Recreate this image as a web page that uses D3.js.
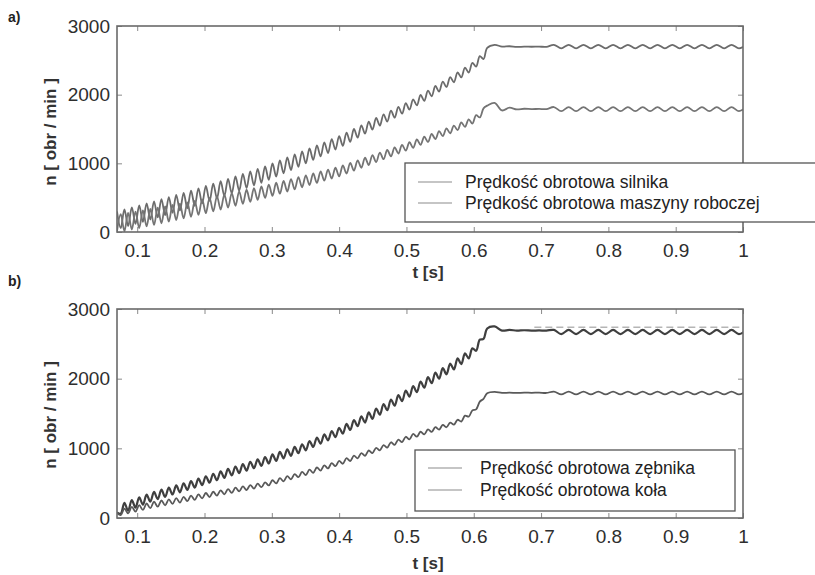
<html>
<head>
<meta charset="utf-8">
<title>Prędkość obrotowa</title>
<script src="https://cdn.jsdelivr.net/npm/d3@7"></script>
<style>
    body { margin: 0; background: #fff; }
    svg text { font-family: "Liberation Sans", Arial, sans-serif; }
</style>
</head>
<body>
<svg id="chart" width="815" height="575"></svg>
<script>
// sample grid: ramp samples every half period (0.0055 s) from 0.07 to 0.62,
// then hold samples every 0.011 s after 0.62
const tStart = 0.07, rampStep = 0.0055, rampEnd = 0.62, holdStep = 0.011;

const xTicks = [0.1, 0.2, 0.3, 0.4, 0.5, 0.6, 0.7, 0.8, 0.9, 1];
const yTicks = [0, 1000, 2000, 3000];

const legendA = ["Prędkość obrotowa silnika", "Prędkość obrotowa maszyny roboczej"];
const legendB = ["Prędkość obrotowa zębnika", "Prędkość obrotowa koła"];

// a) motor speed [obr/min]
const aMotor = [
    300, 55, 329, 87, 359, 118, 388, 149, 418, 181,
    447, 213, 478, 246, 509, 280, 540, 313, 571, 346,
    602, 381, 636, 417, 671, 453, 705, 490, 740, 526,
    774, 564, 810, 602, 847, 640, 883, 679, 920, 717,
    956, 760, 999, 807, 1043, 855, 1086, 902, 1130, 949,
    1173, 999, 1217, 1049, 1262, 1100, 1306, 1150, 1351, 1200,
    1395, 1255, 1448, 1314, 1501, 1373, 1554, 1432, 1607, 1491,
    1660, 1549, 1714, 1607, 1768, 1665, 1822, 1723, 1876, 1781,
    1930, 1843, 1995, 1910, 2060, 1977, 2126, 2045, 2191, 2112,
    2256, 2180, 2324, 2251, 2393, 2322, 2462, 2408, 2561, 2519,
    2680
];
const aMotorHold = [
    2725, 2700, 2705, 2695, 2700, 2698, 2700, 2697,
    2725, 2675, 2725, 2675, 2725, 2675, 2725, 2675, 2725, 2675,
    2725, 2675, 2725, 2675, 2725, 2675, 2725, 2675, 2725, 2675,
    2725, 2675, 2725, 2675, 2725, 2675, 2725
];

// a) working machine speed
const aMachine = [
    10, 259, 13, 278, 36, 297, 58, 316, 81, 335,
    104, 354, 127, 373, 151, 393, 174, 412, 198, 431,
    221, 452, 248, 475, 274, 498, 301, 520, 327, 543,
    354, 566, 382, 591, 411, 615, 439, 639, 468, 664,
    496, 690, 527, 717, 558, 744, 590, 771, 621, 798,
    652, 826, 684, 853, 715, 881, 747, 909, 778, 936,
    810, 969, 852, 1006, 893, 1044, 935, 1082, 976, 1119,
    1018, 1157, 1060, 1194, 1101, 1232, 1143, 1270, 1184, 1307,
    1226, 1347, 1268, 1387, 1311, 1428, 1353, 1468, 1396, 1508,
    1438, 1550, 1484, 1595, 1531, 1640, 1578, 1702, 1669, 1801,
    1840
];
const aMachineHold = [
    1880, 1770, 1810, 1785, 1795, 1790, 1792, 1790,
    1820, 1760, 1820, 1760, 1820, 1760, 1820, 1760, 1820, 1760,
    1820, 1760, 1820, 1760, 1820, 1760, 1820, 1760, 1820, 1760,
    1820, 1760, 1820, 1760, 1820, 1760, 1820
];

// b) pinion speed
const bPinion = [
    80, 62, 219, 105, 258, 148, 297, 191, 336, 234,
    375, 271, 406, 304, 437, 337, 467, 369, 498, 402,
    529, 437, 564, 472, 599, 507, 634, 542, 669, 577,
    704, 611, 738, 645, 772, 680, 807, 714, 841, 748,
    875, 783, 912, 820, 948, 857, 985, 893, 1021, 930,
    1058, 972, 1105, 1019, 1153, 1067, 1200, 1114, 1248, 1161,
    1295, 1211, 1350, 1264, 1405, 1317, 1460, 1370, 1515, 1423,
    1570, 1482, 1635, 1547, 1700, 1612, 1764, 1677, 1829, 1742,
    1894, 1806, 1958, 1870, 2022, 1935, 2087, 1999, 2151, 2063,
    2215, 2133, 2291, 2210, 2363, 2291, 2435, 2400, 2560, 2570,
    2720
];
const bPinionHold = [
    2750, 2690, 2700, 2690, 2695, 2690, 2692, 2690,
    2700, 2640, 2700, 2640, 2700, 2640, 2700, 2640, 2700, 2640,
    2700, 2640, 2700, 2640, 2700, 2640, 2700, 2640, 2700, 2640,
    2700, 2640, 2700, 2640, 2700, 2640, 2700
];
// faint upper trace seen above the pinion line after the ramp
const bPinionRefT = [0.69, 1.0];
const bPinionRef = [2738, 2738];

// b) wheel speed
const bWheel = [
    70, 42, 135, 67, 159, 92, 184, 116, 208, 141,
    233, 162, 251, 182, 268, 202, 286, 221, 303, 241,
    321, 261, 339, 281, 359, 301, 377, 321, 397, 340,
    415, 361, 435, 382, 454, 402, 473, 421, 492, 442,
    512, 467, 542, 497, 572, 527, 601, 556, 631, 586,
    661, 617, 693, 649, 725, 681, 756, 712, 788, 744,
    820, 779, 858, 818, 895, 856, 932, 893, 969, 932,
    1007, 971, 1047, 1011, 1087, 1051, 1126, 1090, 1166, 1130,
    1206, 1167, 1238, 1201, 1272, 1236, 1304, 1269, 1337, 1303,
    1370, 1340, 1410, 1385, 1470, 1455, 1545, 1560, 1670, 1710,
    1790
];
const bWheelHold = [
    1810, 1795, 1800, 1795, 1800, 1797, 1800, 1795,
    1815, 1775, 1815, 1775, 1815, 1775, 1815, 1775, 1815, 1775,
    1815, 1775, 1815, 1775, 1815, 1775, 1815, 1775, 1815, 1775,
    1815, 1775, 1815, 1775, 1815, 1775, 1815
];

function toPoints(ramp, hold) {
    let pts = ramp.map((v, i) => [tStart + i * rampStep, v]);
    hold.forEach((v, k) => pts.push([rampEnd + (k + 1) * holdStep, v]));
    return pts;
}

const svg = d3.select("#chart");
const left = 117, right = 743;
const x = d3.scaleLinear().domain([0.07, 1]).range([left, right]);

const panels = [
    { name: "a", top: 26, bottom: 232, labelY: 132, tLabel: 278, tagY: 22,
      lines: [
        { pts: toPoints(aMotor, aMotorHold), color: "#6b6b6b", w: 1.8 },
        { pts: toPoints(aMachine, aMachineHold), color: "#747474", w: 1.8 }
      ],
      legend: { x: 405, y: 163, w: 440, h: 59, texts: legendA, lx: 418, tx: 465, rows: [188, 209] } },
    { name: "b", top: 309, bottom: 518, labelY: 415, tLabel: 569, tagY: 286,
      lines: [
        { pts: bPinionRefT.map((t, i) => [t, bPinionRef[i]]), color: "#b5b5b5", w: 1.6, dash: "7,4" },
        { pts: toPoints(bPinion, bPinionHold), color: "#3f3f3f", w: 2.2 },
        { pts: toPoints(bWheel, bWheelHold), color: "#595959", w: 1.8 }
      ],
      legend: { x: 415, y: 450, w: 320, h: 61, texts: legendB, lx: 428, tx: 480, rows: [474, 496] } }
];

panels.forEach(p => {
    let y = d3.scaleLinear().domain([0, 3000]).range([p.bottom, p.top]);
    let g = svg.append("g").attr("id", "panel-" + p.name);

    g.append("clipPath").attr("id", "clip-" + p.name)
        .append("rect")
        .attr("x", left).attr("y", p.top)
        .attr("width", right - left).attr("height", p.bottom - p.top);

    // inward ticks on all four sides (matlab box)
    let axB = g.append("g").attr("transform", `translate(0,${p.bottom})`)
        .call(d3.axisBottom(x).tickValues(xTicks).tickSizeInner(-5).tickSizeOuter(0)
            .tickPadding(12).tickFormat(d3.format("~g")));
    let axL = g.append("g").attr("transform", `translate(${left},0)`)
        .call(d3.axisLeft(y).tickValues(yTicks).tickSizeInner(-5).tickSizeOuter(0)
            .tickPadding(7).tickFormat(d3.format("d")));
    let axT = g.append("g").attr("transform", `translate(0,${p.top})`)
        .call(d3.axisTop(x).tickValues(xTicks).tickSizeInner(-5).tickSizeOuter(0).tickFormat(""));
    let axR = g.append("g").attr("transform", `translate(${right},0)`)
        .call(d3.axisRight(y).tickValues(yTicks).tickSizeInner(-5).tickSizeOuter(0).tickFormat(""));

    [axB, axL, axT, axR].forEach(a => {
        a.select(".domain").remove();
        a.selectAll(".tick line").attr("stroke", "#8a8a8a").attr("stroke-width", 1);
        a.selectAll(".tick text")
            .style("font-size", "19px")
            .attr("fill", "#2e2e2e");
    });

    let line = d3.line()
        .x(d => x(d[0]))
        .y(d => y(d[1]))
        .curve(d3.curveCatmullRom.alpha(0.5));

    g.append("g").attr("clip-path", `url(#clip-${p.name})`)
        .selectAll("path")
        .data(p.lines)
        .join("path")
            .attr("d", d => line(d.pts))
            .attr("fill", "none")
            .attr("stroke", d => d.color)
            .attr("stroke-width", d => d.w)
            .attr("stroke-dasharray", d => d.dash || null)
            .attr("stroke-linejoin", "round");

    // frame
    g.append("rect")
        .attr("x", left).attr("y", p.top)
        .attr("width", right - left).attr("height", p.bottom - p.top)
        .attr("fill", "none")
        .attr("stroke", "#6a6a6a")
        .attr("stroke-width", 1.6);

    // legend
    let lg = p.legend;
    g.append("rect")
        .attr("x", lg.x).attr("y", lg.y)
        .attr("width", lg.w).attr("height", lg.h)
        .attr("fill", "#fff")
        .attr("stroke", "#555")
        .attr("stroke-width", 1.3);
    lg.texts.forEach((t, i) => {
        g.append("line")
            .attr("x1", lg.lx).attr("x2", lg.lx + 34)
            .attr("y1", lg.rows[i] - 6).attr("y2", lg.rows[i] - 6)
            .attr("stroke", "#8c8c8c").attr("stroke-width", 1.2);
        g.append("text")
            .attr("x", lg.tx).attr("y", lg.rows[i])
            .style("font-size", "17.5px")
            .attr("fill", "#222")
            .text(t);
    });

    // axis titles
    g.append("text")
        .attr("x", 428).attr("y", p.tLabel)
        .attr("text-anchor", "middle")
        .style("font-size", "17px").style("font-weight", "bold")
        .attr("fill", "#333")
        .text("t [s]");
    g.append("text")
        .attr("transform", `translate(56,${p.labelY}) rotate(-90)`)
        .attr("text-anchor", "middle")
        .style("font-size", "17px").style("font-weight", "bold")
        .attr("fill", "#333")
        .text("n [ obr / min ]");

    g.append("text")
        .attr("x", 8).attr("y", p.tagY)
        .style("font-size", "14px").style("font-weight", "bold")
        .attr("fill", "#222")
        .text(p.name + ")");
});
</script>
</body>
</html>
